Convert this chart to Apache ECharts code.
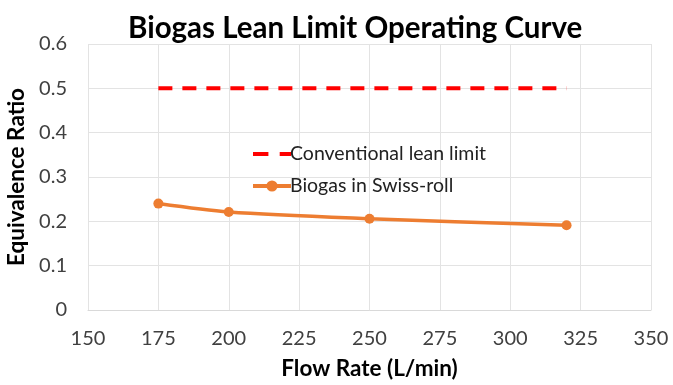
<!DOCTYPE html>
<html><head><meta charset="utf-8">
<script src="https://cdn.jsdelivr.net/npm/echarts@6/dist/echarts.min.js"></script>
<style>html,body{margin:0;padding:0;background:#fff}#c{width:673px;height:385px}</style>
</head><body><div id="c"></div>
<script>
const flowRates = [175, 200, 250, 320];
const biogasPhi = [0.24, 0.221, 0.206, 0.191];
const leanLimitX = [175, 320];
const leanLimitPhi = [0.5, 0.5];
const xTicks = [150, 350, 25];
const yTicks = [0, 0.6, 0.1];
const titleText = 'Biogas Lean Limit Operating Curve';
const seriesNames = ['Conventional lean limit', 'Biogas in Swiss-roll'];

const font = 'Lato, "Open Sans", sans-serif';
const chart = echarts.init(document.getElementById('c'));
chart.setOption({
  animation: false,
  title: {text: titleText, left: 123, top: 8,
    textStyle: {fontFamily: font, fontWeight: 'bold', fontSize: 29.5, color: '#000'}},
  grid: {left: 88, right: 22, top: 44, bottom: 75, outerBoundsMode: 'none', containLabel: false},
  legend: {orient: 'vertical', left: 246, top: 139, itemGap: 12, itemWidth: 38, itemHeight: 14,
    textStyle: {fontFamily: font, fontSize: 19.5, color: '#222', padding: [0,0,0,-6]},
    lineStyle: {width: 4},
    data: [
      {name: seriesNames[0], icon: 'path://M0,0 L15,0 L15,4 L0,4 Z M26,0 L37,0 L37,4 L26,4 Z'},
      {name: seriesNames[1]}
    ]},
  xAxis: {type: 'value', min: xTicks[0], max: xTicks[1], interval: xTicks[2],
    name: 'Flow Rate (L/min)', nameLocation: 'middle', nameGap: 47,
    nameTextStyle: {fontFamily: font, fontWeight: 'bold', fontSize: 22.5, color: '#000'},
    axisLine: {show: true, lineStyle: {color: '#d9d9d9'}}, axisTick: {show: false},
    axisLabel: {fontFamily: font, fontSize: 20, color: '#404040', margin: 19},
    splitLine: {show: true, lineStyle: {color: '#e3e3e3'}}},
  yAxis: {type: 'value', min: yTicks[0], max: yTicks[1], interval: yTicks[2],
    name: 'Equivalence Ratio', nameLocation: 'middle', nameGap: 52,
    nameTextStyle: {fontFamily: font, fontWeight: 'bold', fontSize: 22.5, color: '#000'},
    axisLine: {show: false}, axisTick: {show: false},
    axisLabel: {fontFamily: font, fontSize: 20, color: '#404040', margin: 21,
      formatter: v => String(Math.round(v*10)/10)},
    splitLine: {show: true, lineStyle: {color: '#e3e3e3'}}},
  series: [
    {name: seriesNames[0], type: 'line', symbol: 'none',
      data: leanLimitX.map((x,i)=>[x, leanLimitPhi[i]]),
      lineStyle: {color: '#ff0000', width: 4, type: [14, 10]}, itemStyle: {color: '#ff0000'}},
    {name: seriesNames[1], type: 'line', smooth: 0.3, symbol: 'circle', symbolSize: 10,
      data: flowRates.map((x,i)=>[x, biogasPhi[i]]),
      lineStyle: {color: '#ed7d31', width: 3.5}, itemStyle: {color: '#ed7d31'}}
  ]
});
</script></body></html>
